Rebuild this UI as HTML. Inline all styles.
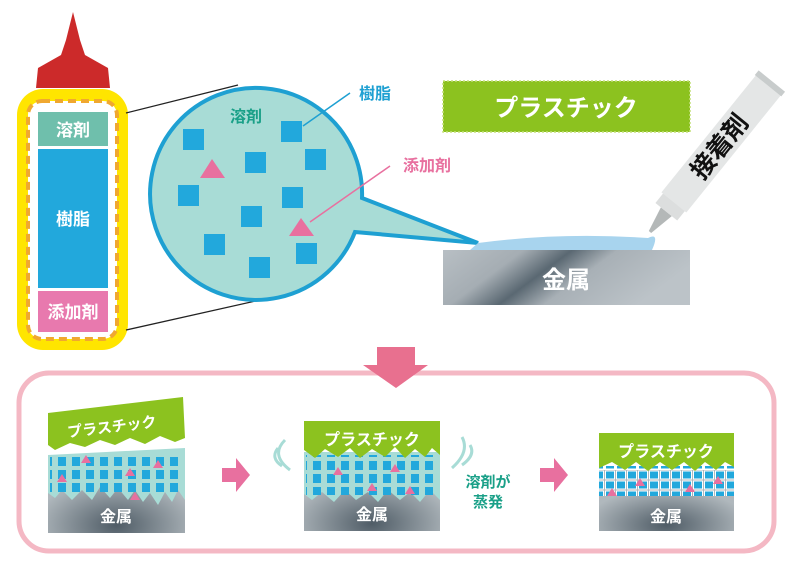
<!DOCTYPE html>
<html><head><meta charset="utf-8"><style>
html,body{margin:0;padding:0;background:#fff;}
svg{display:block;font-family:"Liberation Sans","Noto Sans CJK JP",sans-serif;font-weight:bold;}
</style></head><body>
<svg width="800" height="568" viewBox="0 0 800 568" xmlns="http://www.w3.org/2000/svg">
<defs>
<linearGradient id="metal" x1="0" y1="0" x2="1" y2="0.3">
<stop offset="0" stop-color="#b8bfc4"/><stop offset="0.3" stop-color="#a5adb3"/><stop offset="0.48" stop-color="#5a6872"/><stop offset="0.65" stop-color="#a8b0b6"/><stop offset="1" stop-color="#bcc3c8"/>
</linearGradient>
<radialGradient id="metal2" cx="0.5" cy="0.9" r="0.6">
<stop offset="0" stop-color="#4f5c66"/><stop offset="1" stop-color="#b0b8bd"/>
</radialGradient>
<pattern id="res" x="0" y="0" width="14" height="13" patternUnits="userSpaceOnUse">
<rect x="2" y="2" width="8" height="9" fill="#22a8dc"/>
</pattern>
<pattern id="res2" x="3" y="4" width="14" height="13" patternUnits="userSpaceOnUse">
<rect x="2" y="2" width="8" height="9" fill="#22a8dc"/>
</pattern>
<pattern id="res3" x="0" y="0" width="11" height="10" patternUnits="userSpaceOnUse">
<rect x="0.5" y="1" width="9" height="8" fill="#22a8dc" stroke="#fff" stroke-width="1"/>
</pattern>
</defs>

<!-- bottle -->
<path d="M73 12 L80 40 L85 55 L108 68 L110 88 L36 88 L38 68 L61 55 L66 40 Z" fill="#cc2a2a"/>
<rect x="17" y="89" width="111" height="261" rx="26" fill="#ffe500"/>
<rect x="28" y="101" width="89" height="238" rx="14" fill="#fff" stroke="#f0a830" stroke-width="4" stroke-dasharray="8 5"/>
<rect x="38" y="112" width="70" height="34" fill="#6fbfac"/>
<rect x="38" y="149" width="70" height="139" fill="#22a8dc"/>
<rect x="38" y="291" width="70" height="41" fill="#e879ae"/>
<text x="73" y="136" fill="#fff" font-size="17" text-anchor="middle">溶剤</text>
<text x="73" y="225" fill="#fff" font-size="17" text-anchor="middle">樹脂</text>
<text x="73" y="318" fill="#fff" font-size="17" text-anchor="middle">添加剤</text>
<line x1="126" y1="113" x2="238" y2="85" stroke="#222" stroke-width="1.3"/>
<line x1="126" y1="330" x2="278" y2="296" stroke="#222" stroke-width="1.3"/>

<!-- magnifier -->
<path d="M362 198 L478 243 L355 232 A106 106 0 1 1 362 198 Z" fill="#a8dcd6" stroke="#1ea0d2" stroke-width="4" stroke-linejoin="miter"/>
<text x="246" y="122" fill="#1aa088" font-size="16" text-anchor="middle">溶剤</text>
<g fill="#22a8dc">
<rect x="183" y="129" width="21" height="21"/><rect x="281" y="121" width="21" height="21"/>
<rect x="245" y="152" width="21" height="21"/><rect x="305" y="149" width="21" height="21"/>
<rect x="178" y="185" width="21" height="21"/><rect x="282" y="187" width="21" height="21"/>
<rect x="241" y="206" width="21" height="21"/><rect x="204" y="234" width="21" height="21"/>
<rect x="296" y="243" width="21" height="21"/><rect x="249" y="257" width="21" height="21"/>
</g>
<polygon points="212,159 200,178 225,178" fill="#e8709f"/>
<polygon points="301,218 289,236 314,236" fill="#e8709f"/>
<line x1="303" y1="126" x2="350" y2="93" stroke="#1ea0d2" stroke-width="1.5"/>
<text x="375" y="99" fill="#1ea0d2" font-size="16" text-anchor="middle">樹脂</text>
<line x1="310" y1="222" x2="390" y2="166" stroke="#e8709f" stroke-width="1.5"/>
<text x="427" y="171" fill="#e8709f" font-size="16" text-anchor="middle">添加剤</text>

<!-- plastic top -->
<rect x="443" y="81" width="247" height="51" fill="#8cc21f" stroke="#c4e07a" stroke-width="1.5" stroke-dasharray="2 2"/>
<text x="566" y="116" fill="#fff" font-size="24" text-anchor="middle">プラスチック</text>
<!-- metal -->
<rect x="443" y="250" width="247" height="55" fill="url(#metal)"/>
<text x="566" y="288" fill="#fff" font-size="24" text-anchor="middle">金属</text>
<path d="M478 243 Q560 232 648 238 Q660 232 652 250 L470 250 Z" fill="#a8d4ee"/>
<!-- tube -->
<g transform="translate(650,232) rotate(-51.1)">
<polygon points="0,-1.5 0,1.5 26,7 26,-7" fill="#b4b8b8"/>
<rect x="26" y="-14" width="15" height="28" fill="#dcdede"/>
<rect x="38" y="-16" width="155" height="32" fill="#e4e6e6"/>
<rect x="188" y="-17" width="6" height="34" fill="#c8cccc"/>
<text x="110" y="9" fill="#111" font-size="25" text-anchor="middle">接着剤</text>
</g>

<!-- down arrow & frame -->
<rect x="19" y="373" width="755" height="178" rx="30" fill="none" stroke="#f4b8c4" stroke-width="5"/>
<polygon points="377,347 415,347 415,365 428,365 396,388 363,365 377,365" fill="#e8708f"/>

<!-- panel 1 -->
<rect x="48" y="455" width="137" height="78" fill="url(#metal2)"/>
<path d="M48 455 L185 448 L185 500 L178 490 L172 502 L165 492 L158 505 L150 493 L143 502 L135 490 L128 500 L118 488 L110 498 L100 487 L92 500 L82 490 L72 500 L62 490 L55 498 L48 493 Z" fill="#a8dcd6"/>
<rect x="50" y="455" width="134" height="40" fill="url(#res)"/>
<polygon points="48,413 183,397 185,438 175,442 160,436 145,444 130,438 115,445 100,440 85,447 70,443 55,450 48,445" fill="#8cc21f"/>
<text x="112" y="432" fill="#fff" font-size="15" text-anchor="middle" transform="rotate(-7 112 428)">プラスチック</text>
<text x="116" y="522" fill="#fff" font-size="16" text-anchor="middle">金属</text>
<polygon points="222,468 236,468 236,458 250,475 236,492 236,482 222,482" fill="#e8709f"/>

<!-- panel 2 -->
<rect x="304" y="455" width="136" height="76" fill="url(#metal2)"/>
<path d="M304 452 L440 452 L440 500 L430 490 L420 502 L410 492 L400 500 L388 490 L378 502 L368 492 L356 500 L345 490 L334 502 L322 492 L312 500 L304 494 Z" fill="#a8dcd6"/>
<rect x="306" y="455" width="132" height="40" fill="url(#res2)"/>
<path d="M304 421 L440 421 L440 455 L432 448 L425 457 L415 449 L405 458 L395 447 L385 457 L372 449 L360 458 L350 448 L338 457 L325 449 L315 458 L304 450 Z" fill="#8cc21f"/>
<text x="372" y="445" fill="#fff" font-size="16" text-anchor="middle">プラスチック</text>
<text x="372" y="520" fill="#fff" font-size="16" text-anchor="middle">金属</text>
<path d="M285 440 Q270 455 290 470 M278 448 Q270 458 282 466 M462 437 Q470 452 452 468 M470 445 Q476 455 462 465" stroke="#a8dcd6" stroke-width="3" fill="none"/>
<text x="488" y="487" fill="#1aa088" font-size="15" text-anchor="middle">溶剤が</text>
<text x="488" y="507" fill="#1aa088" font-size="15" text-anchor="middle">蒸発</text>
<polygon points="540,468 554,468 554,458 568,475 554,492 554,482 540,482" fill="#e8709f"/>

<!-- panel 3 -->
<rect x="599" y="470" width="135" height="61" fill="url(#metal2)"/>
<rect x="599" y="466" width="135" height="30" fill="url(#res3)"/>
<path d="M599 433 L734 433 L734 467 L725 462 L716 470 L705 462 L695 471 L684 462 L672 470 L660 462 L648 471 L636 462 L625 470 L612 462 L599 468 Z" fill="#8cc21f"/>
<text x="666" y="457" fill="#fff" font-size="16" text-anchor="middle">プラスチック</text>
<text x="666" y="522" fill="#fff" font-size="16" text-anchor="middle">金属</text>
<g fill="#e8709f">
<polygon points="86,455 81,463 91,463"/>
<polygon points="62,474 57,482 67,482"/>
<polygon points="130,468 125,476 135,476"/>
<polygon points="158,460 153,468 163,468"/>
<polygon points="135,492 130,500 140,500"/>
<polygon points="338,467 333,475 343,475"/>
<polygon points="395,464 390,472 400,472"/>
<polygon points="410,486 405,494 415,494"/>
<polygon points="372,483 367,491 377,491"/>
<polygon points="612,488 607,496 617,496"/>
<polygon points="640,478 635,486 645,486"/>
<polygon points="690,484 685,492 695,492"/>
<polygon points="718,476 713,484 723,484"/>
</g>
</svg>
</body></html>
